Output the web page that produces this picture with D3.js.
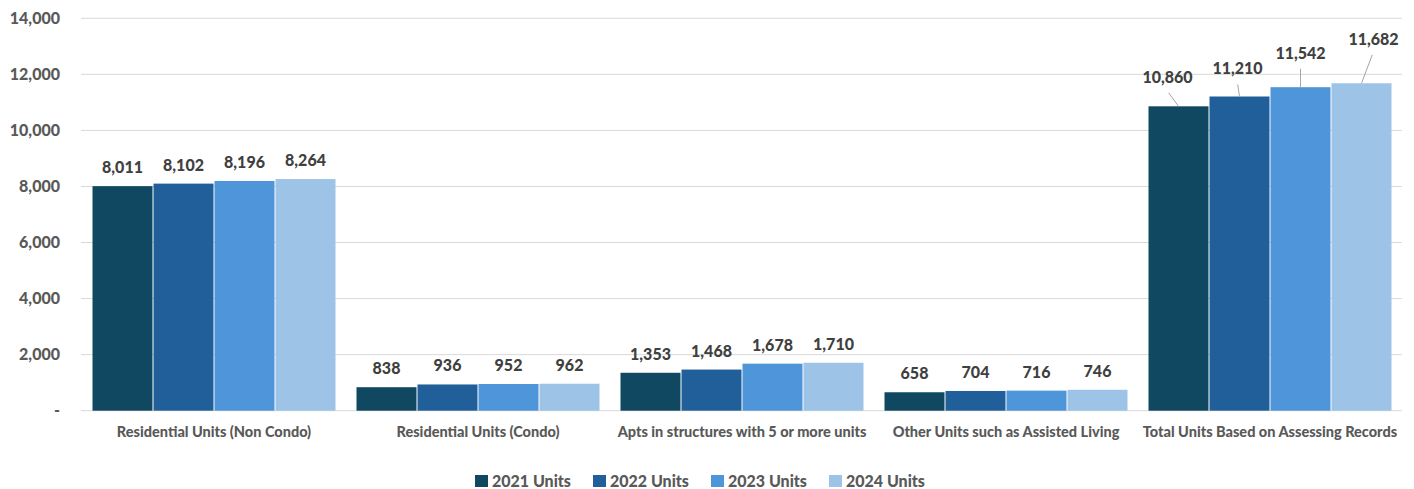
<!DOCTYPE html>
<html>
<head>
<meta charset="utf-8">
<script src="https://cdn.jsdelivr.net/npm/d3@7"></script>
<style>
  html, body { margin: 0; padding: 0; background: #fff; }
  svg { display: block; font-family: Lato, "Open Sans", sans-serif; }
</style>
</head>
<body>
<svg id="chart" width="1414" height="489"></svg>
<script>
const categories = [
  "Residential Units (Non Condo)",
  "Residential Units (Condo)",
  "Apts in structures with 5 or more units",
  "Other Units such as Assisted Living",
  "Total Units Based on Assessing Records"
];
const seriesNames = ["2021 Units", "2022 Units", "2023 Units", "2024 Units"];
const units2021 = [8011, 838, 1353, 658, 10860];
const units2022 = [8102, 936, 1468, 704, 11210];
const units2023 = [8196, 952, 1678, 716, 11542];
const units2024 = [8264, 962, 1710, 746, 11682];
const yTicks = [0, 2000, 4000, 6000, 8000, 10000, 12000, 14000];
const colors = ["#104862", "#215f9a", "#4e95d9", "#9dc3e6"];
// label displacement (px) for the last category, where labels use leader lines
const totalLabelShift = [[-11, -23.5], [-2, -22], [0, -28.5], [12, -38.5]];

const series = [units2021, units2022, units2023, units2024];
const svg = d3.select("#chart");
const margin = { left: 82, right: 12, top: 18.3, bottom: 78.3 };
const W = 1414, H = 489;
const plotR = W - margin.right;
const yBase = H - margin.bottom;

const x0 = d3.scaleBand().domain(categories).range([margin.left, margin.left + 1320]).paddingInner(20/264).paddingOuter(10/264);
const x1 = d3.scaleBand().domain(seriesNames).range([0, x0.bandwidth()]).padding(0);
const y = d3.scaleLinear().domain([0, 14000]).range([yBase, margin.top]);

// gridlines
svg.append("g").selectAll("line").data(yTicks).join("line")
  .attr("x1", margin.left - 1).attr("x2", plotR)
  .attr("y1", d => y(d)).attr("y2", d => y(d))
  .attr("stroke", "#d9d9d9").attr("stroke-width", 1);

// y axis labels
const fmt = d3.format(",");
svg.append("g").selectAll("text").data(yTicks).join("text")
  .attr("x", 60).attr("y", d => y(d)).attr("dy", "0.36em")
  .attr("text-anchor", "end")
  .attr("font-size", 16).attr("font-weight", 900).attr("fill", "#595959")
  .text(d => d === 0 ? "-" : fmt(d));

// bars
const groups = svg.append("g").selectAll("g").data(categories).join("g")
  .attr("transform", c => `translate(${x0(c)},0)`);

groups.each(function(c, ci) {
  const g = d3.select(this);
  seriesNames.forEach((s, si) => {
    const v = series[si][ci];
    const bx = x1(s), bw = x1.bandwidth();
    g.append("rect")
      .attr("x", bx + 0.5).attr("width", bw - 1)
      .attr("y", y(v)).attr("height", yBase - y(v))
      .attr("fill", colors[si]);
    const cx = bx + bw / 2;
    if (ci === categories.length - 1) {
      const [dx, dy] = totalLabelShift[si];
      const ly = y(v) + dy;
      g.append("text")
        .attr("x", cx + dx).attr("y", ly)
        .attr("text-anchor", "middle")
        .attr("font-size", 16).attr("font-weight", 900).attr("fill", "#404040")
        .text(fmt(v));
      g.append("line")
        .attr("x1", cx + dx * 0.9).attr("y1", ly + 10)
        .attr("x2", cx).attr("y2", y(v))
        .attr("stroke", "#a6a6a6").attr("stroke-width", 1);
    } else {
      g.append("text")
        .attr("x", cx).attr("y", y(v) - 13)
        .attr("text-anchor", "middle")
        .attr("font-size", 16).attr("font-weight", 900).attr("fill", "#404040")
        .text(fmt(v));
    }
  });
});

// category labels
svg.append("g").selectAll("text").data(categories).join("text")
  .attr("x", c => x0(c) + x0.bandwidth() / 2).attr("y", 437)
  .attr("text-anchor", "middle")
  .attr("font-size", 14.5).attr("font-weight", 900).attr("fill", "#595959")
  .text(c => c);

// legend
const legend = svg.append("g").attr("transform", "translate(475,475)");
const li = legend.selectAll("g").data(seriesNames).join("g")
  .attr("transform", (d, i) => `translate(${i * 118},0)`);
li.append("rect").attr("width", 13).attr("height", 12).attr("fill", (d, i) => colors[i]);
li.append("text").attr("x", 17).attr("y", 6).attr("dy", "0.36em")
  .attr("font-size", 16).attr("font-weight", 900).attr("fill", "#595959")
  .text(d => d);
</script>
</body>
</html>
